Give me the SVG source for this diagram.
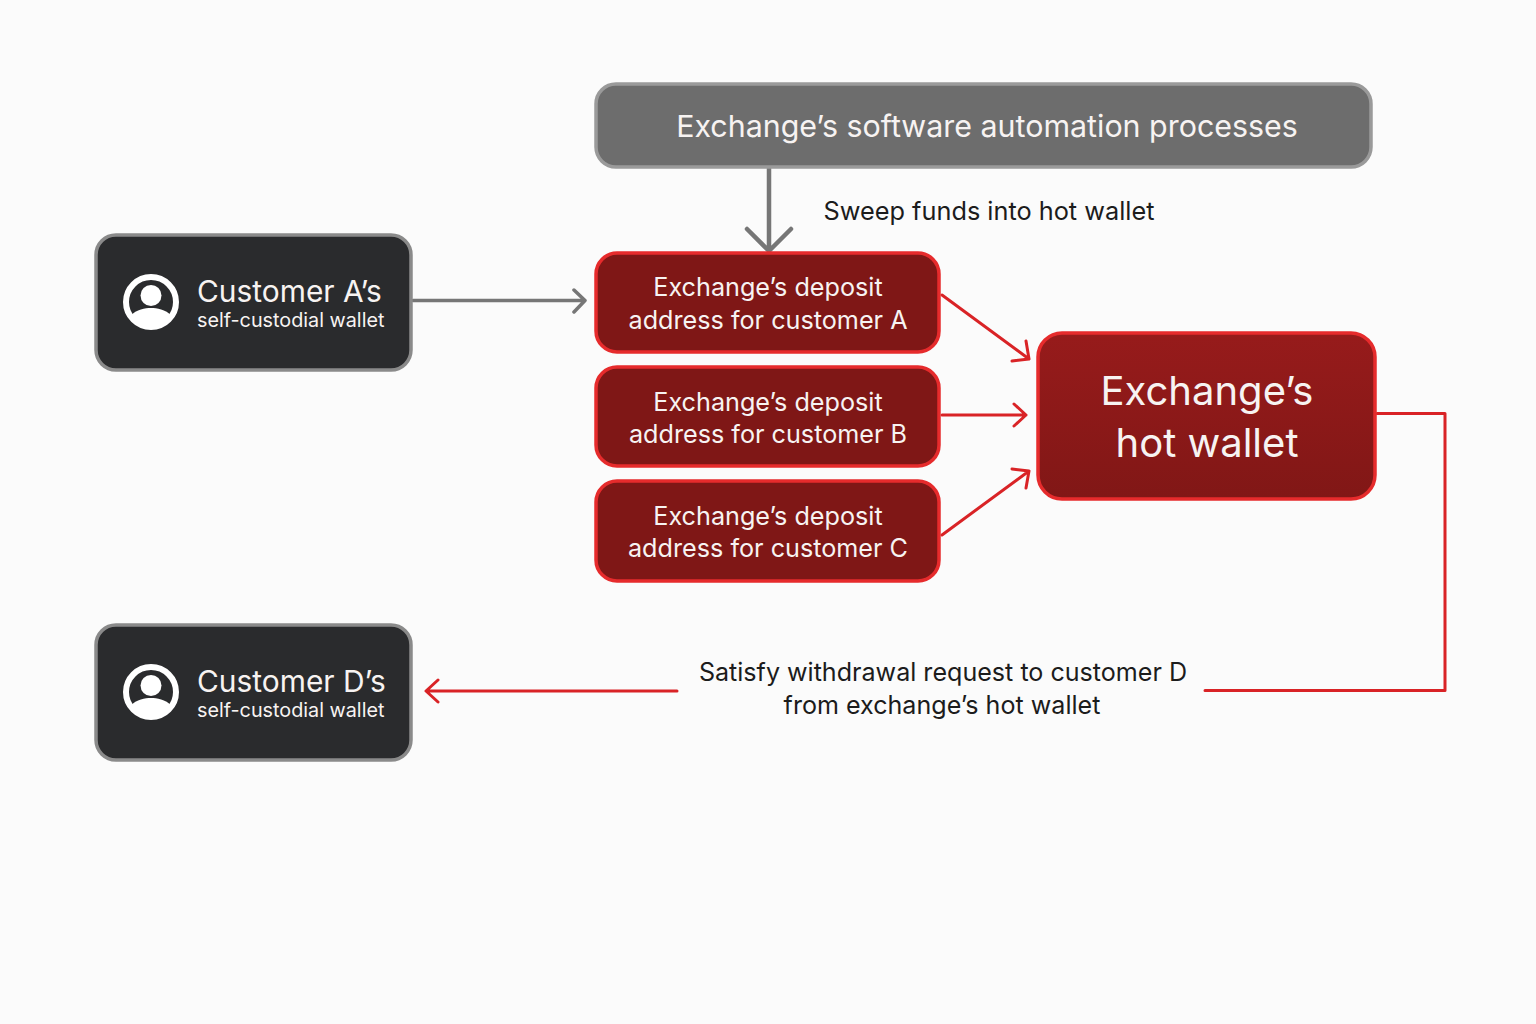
<svg xmlns="http://www.w3.org/2000/svg" width="1536" height="1024" viewBox="0 0 1536 1024">
<style>
text{font-family:"Inter","Liberation Sans",sans-serif;text-anchor:middle}
.w{fill:#f7f3f2}
.k{fill:#1c1c1c}
.t{font-size:25.200px}
.c{fill:none;stroke-linecap:round;stroke-linejoin:round}
.g{stroke:#767676}
.r{stroke:#d92326;stroke-width:3}
.dep{fill:#7f1716;stroke:#e62b2c;stroke-width:3.500}
.cust{fill:#2a2b2d;stroke:#8a8a8a;stroke-width:3.500}
.ttl{font-size:29.900px;text-anchor:start}
.sub{font-size:19.800px;text-anchor:start}
</style>
<defs>
<linearGradient id="hot" x1="0" y1="0" x2="0" y2="1"><stop offset="0" stop-color="#971b1b"/><stop offset="1" stop-color="#811716"/></linearGradient>
<g id="user"><circle cx="0" cy="0" r="25" fill="none" stroke="#fff" stroke-width="6"/><circle cx="0" cy="-6.500" r="10.500" fill="#fff"/><path d="M-21 14C-14 7-6 6 0 6S14 7 21 14C15 21 8 25 0 25S-15 21-21 14Z" fill="#fff"/></g>
</defs>
<rect width="1536" height="1024" fill="#fbfbfb"/>
<g id="connectors">
<path class="c g" stroke-width="4.500" d="M769 168V250M747 229L769 251L791 229"/>
<path class="c g" stroke-width="3.500" d="M413 300.500H584M574 290L585 300.500L574 312"/>
<path class="c r" d="M942 295L1029 359M1012 361L1029 359L1026 341"/>
<path class="c r" d="M942 415H1026M1014 404L1026 415L1014 426"/>
<path class="c r" d="M942 535L1029 471M1012 469L1029 471L1026 488"/>
<path class="c r" stroke-linecap="butt" d="M1377 413.500H1445V690.500H1205"/>
<path class="c r" d="M677 691H427M438 680L426 691L438 702"/>
</g>
<g id="automation"><rect x="596" y="84" width="775" height="83" rx="20" fill="#6d6d6d" stroke="#9a9a9a" stroke-width="3.500"/><text class="w" x="987" y="136.500" font-size="30.400">Exchange’s software automation processes</text></g>
<text id="sweep-label" class="k" x="989" y="220" font-size="25.300">Sweep funds into hot wallet</text>
<g id="customer-a"><rect class="cust" x="96" y="235" width="315" height="135" rx="20"/><use href="#user" x="151" y="302"/><text class="w ttl" x="197" y="301.500">Customer A’s</text><text class="w sub" x="197" y="327">self-custodial wallet</text></g>
<g id="deposit-a"><rect class="dep" x="596" y="253" width="343" height="99" rx="21"/><text class="w t" x="768" y="295.500">Exchange’s deposit</text><text class="w t" x="768" y="328.500">address for customer A</text></g>
<g id="deposit-b"><rect class="dep" x="596" y="367" width="343" height="99" rx="21"/><text class="w t" x="768" y="410.500">Exchange’s deposit</text><text class="w t" x="768" y="443">address for customer B</text></g>
<g id="deposit-c"><rect class="dep" x="596" y="481" width="343" height="100" rx="21"/><text class="w t" x="768" y="524.500">Exchange’s deposit</text><text class="w t" x="768" y="557">address for customer C</text></g>
<g id="hot-wallet"><rect x="1038" y="333" width="337" height="166" rx="24" fill="url(#hot)" stroke="#e62b2c" stroke-width="3.500"/><text class="w" x="1207" y="405" font-size="40">Exchange’s</text><text class="w" x="1207" y="457" font-size="40">hot wallet</text></g>
<g id="customer-d"><rect class="cust" x="96" y="625" width="315" height="135" rx="20"/><use href="#user" x="151" y="692"/><text class="w ttl" x="197" y="691.500">Customer D’s</text><text class="w sub" x="197" y="717">self-custodial wallet</text></g>
<g id="withdrawal-label"><text class="k" x="943" y="681" font-size="25.100">Satisfy withdrawal request to customer D</text><text class="k" x="942" y="714" font-size="25.100">from exchange’s hot wallet</text></g>
</svg>
